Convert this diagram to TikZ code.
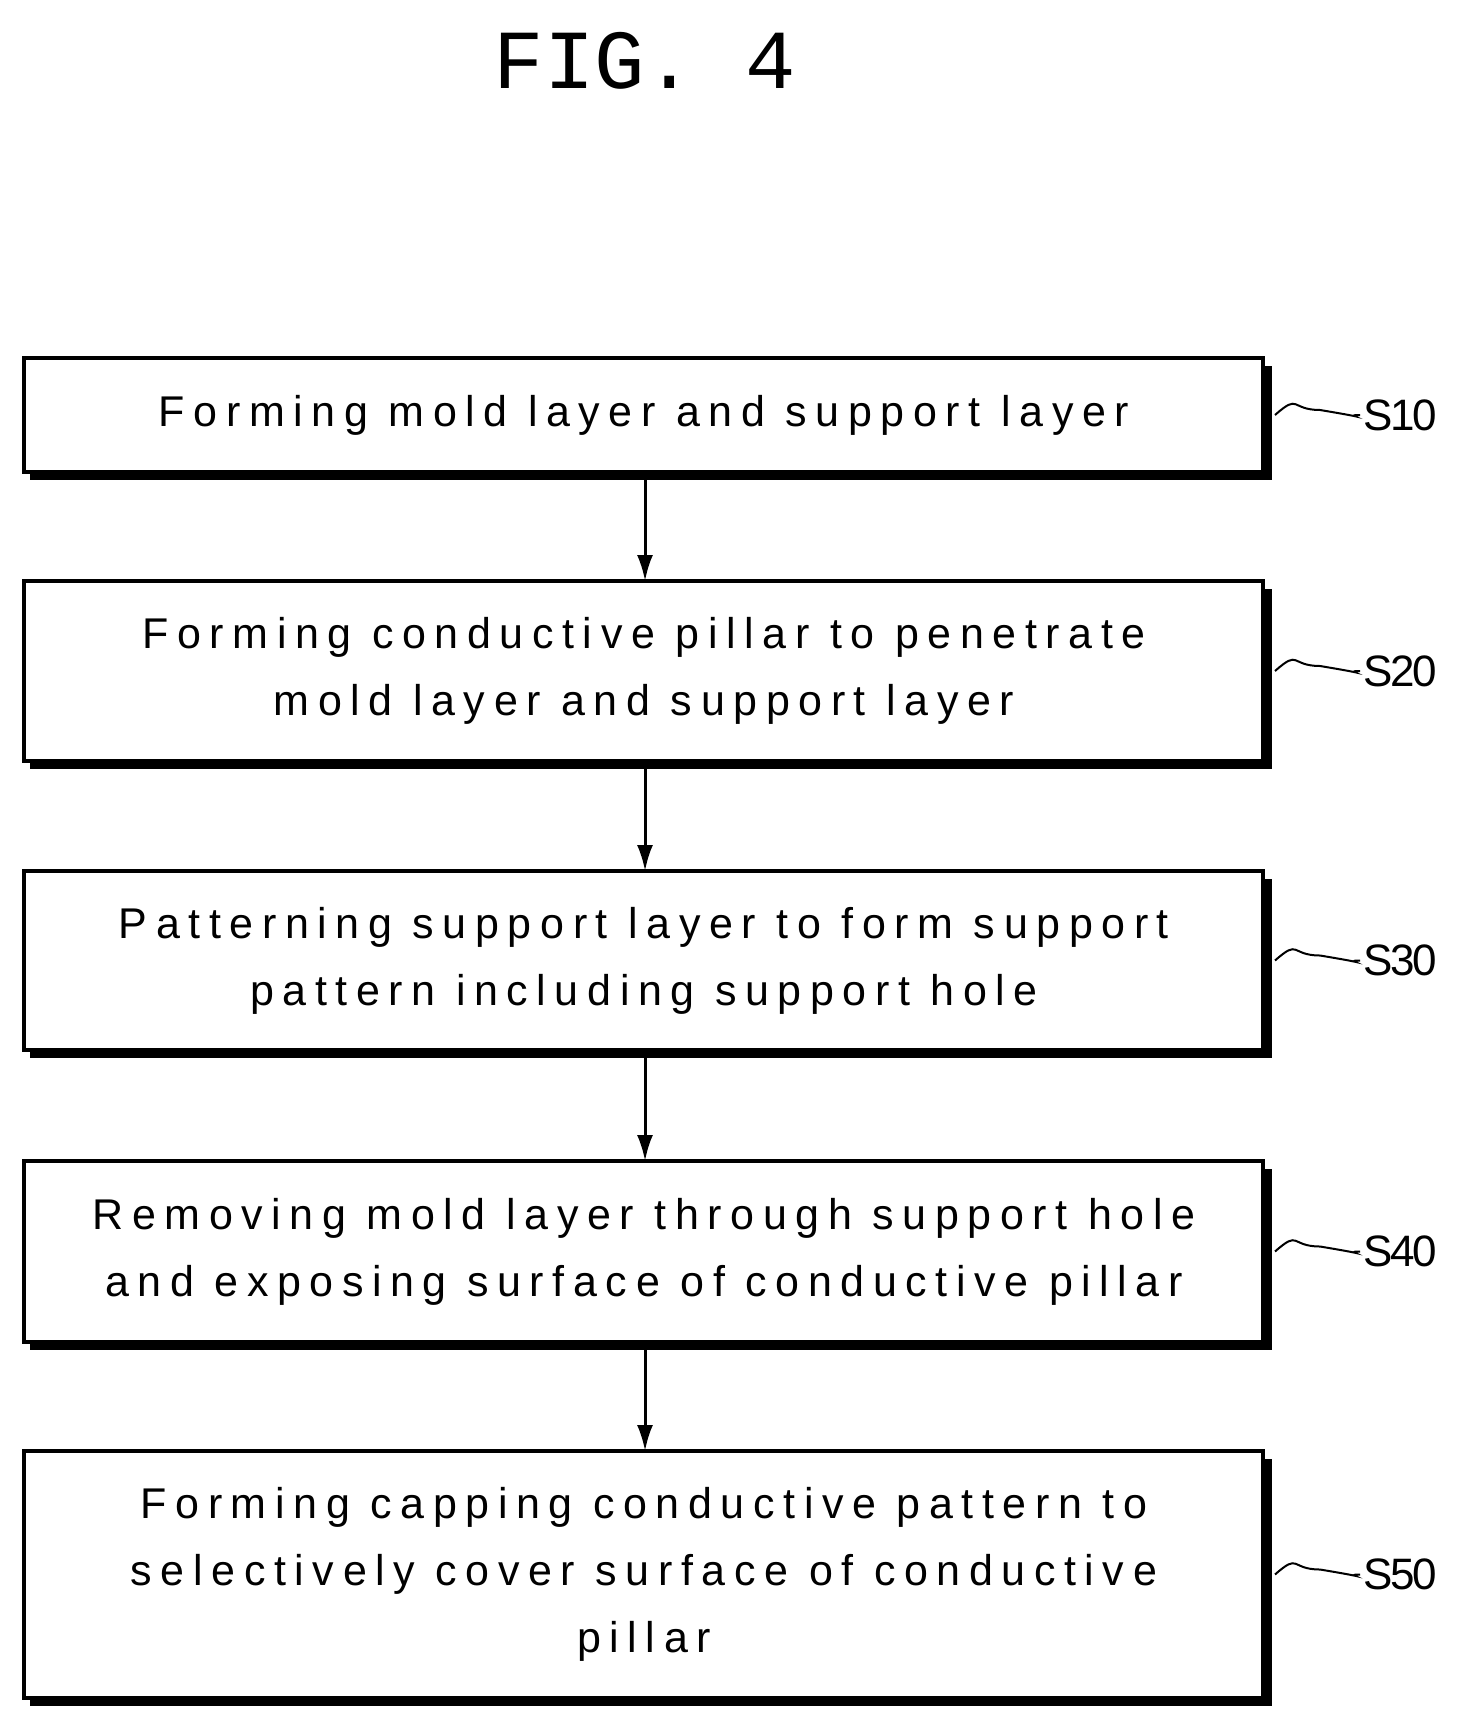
\documentclass[tikz,border=0pt]{standalone}
\usepackage{fontspec}
\setmainfont{Liberation Sans}[LetterSpace=20]
\newfontfamily\titlefont{Liberation Mono}
\begin{document}
\begin{tikzpicture}[x=1pt,y=-1pt,
  txt/.style={font=\fontsize{43}{67}\selectfont, align=center},
  lab/.style={font=\fontsize{44}{44}\selectfont\addfontfeature{LetterSpace=-6}, anchor=west},
  arr/.style={line width=3pt, -{Latex[length=26pt,width=16pt]}}]
\usetikzlibrary{arrows.meta}
\useasboundingbox (0,0) rectangle (1467,1726);
\node[font=\titlefont\fontsize{84}{84}\selectfont] (t) at (645,61) {FIG. 4};
\foreach \n/\ya/\yb/\t/\s in {
 1/358/472/{Forming mold layer and support layer}/S10,
 2/581/761/{Forming conductive pillar to penetrate\\mold layer and support layer}/S20,
 3/871/1050/{Patterning support layer to form support\\pattern including support hole}/S30,
 4/1161/1342/{Removing mold layer through support hole\\and exposing surface of conductive pillar}/S40,
 5/1451/1698/{Forming capping conductive pattern to\\selectively cover surface of conductive\\pillar}/S50}{
  \fill (30,\ya+8) rectangle (1272,\yb+8);
  \draw[line width=4pt, fill=white] (24,\ya) rectangle (1263,\yb);
  \coordinate (b\n n) at (645,\ya);
  \coordinate (b\n s) at (645,\yb+8);
  \node[txt] (b\n) at (644,{(\ya+\yb)/2}) {\t};
  \coordinate (c\n) at (1275,{(\ya+\yb)/2});
  \node[lab] (l\n) at (1360,{(\ya+\yb)/2}) {\s};
  \draw[line width=2pt] (c\n) .. controls +(25,-22) and +(-30,0) .. +(45,-5) .. controls +(60,10) and +(-20,0) .. (l\n.west);
}
\foreach \a/\b in {1/2,2/3,3/4,4/5}{
  \draw[arr] (b\a s) -- (b\b n);
}
\end{tikzpicture}
\end{document}
